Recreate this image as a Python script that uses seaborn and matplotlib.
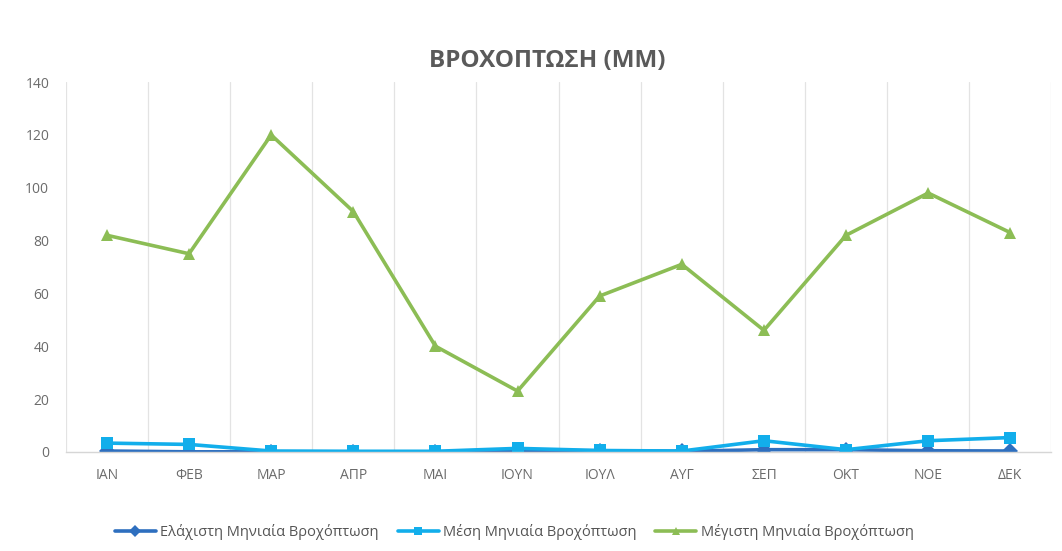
import matplotlib
matplotlib.use("Agg")
import matplotlib.pyplot as plt
import seaborn as sns
import pandas as pd

months = ["ΙΑΝ", "ΦΕΒ", "ΜΑΡ", "ΑΠΡ", "ΜΑΙ", "ΙΟΥΝ", "ΙΟΥΛ", "ΑΥΓ", "ΣΕΠ", "ΟΚΤ", "ΝΟΕ", "ΔΕΚ"]
min_rain = [0.3, 0.0, 0.0, 0.0, 0.0, 0.5, 0.4, 0.2, 0.8, 0.8, 0.4, 0.3]
mean_rain = [3.3, 2.8, 0.3, 0.2, 0.2, 1.3, 0.5, 0.3, 4.2, 0.8, 4.2, 5.4]
max_rain = [82, 75, 120, 91, 40, 23, 59, 71, 46, 82, 98, 83]
series_names = ["Ελάχιστη Μηνιαία Βροχόπτωση", "Μέση Μηνιαία Βροχόπτωση", "Μέγιστη Μηνιαία Βροχόπτωση"]
title = "ΒΡΟΧΟΠΤΩΣΗ (ΜΜ)"
yticks = [0, 20, 40, 60, 80, 100, 120, 140]

sns.set_theme(style="white")
plt.rcParams["font.family"] = ["Open Sans", "DejaVu Sans"]

df = pd.DataFrame({
    "month": months * 3,
    "value": min_rain + mean_rain + max_rain,
    "series": [series_names[0]] * 12 + [series_names[1]] * 12 + [series_names[2]] * 12,
})

colors = {series_names[0]: "#2E6FBF", series_names[1]: "#12AEEB", series_names[2]: "#8CBD55"}
markers = {series_names[0]: "D", series_names[1]: "s", series_names[2]: "^"}

fig = plt.figure(figsize=(10.62, 5.51), dpi=100)
ax = fig.add_axes([0.062, 0.18, 0.928, 0.671])

sns.lineplot(data=df, x="month", y="value", hue="series", style="series",
             palette=colors, markers=markers, dashes=False, linewidth=2.6,
             markersize=8, markeredgewidth=0, sort=False, ax=ax, legend=True)

ax.set_xlim(-0.5, len(months) - 0.5)
ax.set_ylim(0, 140)
ax.set_yticks(yticks)
ax.set_yticklabels([str(t) for t in yticks], color="#6b6b6b", fontsize=10)
ax.set_xticks(range(len(months)))
ax.set_xticklabels(months, color="#6b6b6b", fontsize=10)
ax.tick_params(axis="x", length=0, pad=12)
ax.tick_params(axis="y", length=0, pad=12)
ax.set_xlabel("")
ax.set_ylabel("")

# vertical gridlines at category boundaries
for b in range(len(months) + 1):
    ax.axvline(b - 0.5, color="#e3e3e3", linewidth=0.9, zorder=0)

for s in ["top", "right", "left"]:
    ax.spines[s].set_visible(False)
ax.spines["bottom"].set_color("#d6d6d6")
ax.spines["bottom"].set_linewidth(1.0)

leg = ax.legend(loc="upper center", bbox_to_anchor=(0.455, -0.16), ncol=3, frameon=False,
                fontsize=10.5, handlelength=2.8, columnspacing=1.3, handletextpad=0.3,
                markerscale=0.8)
for t in leg.get_texts():
    t.set_color("#555555")

fig.text(0.515, 0.89, title, ha="center", va="center", fontsize=17.5, fontweight="bold",
         color="#5a5a5a")

fig.savefig("out.png", dpi=100, facecolor="white")
